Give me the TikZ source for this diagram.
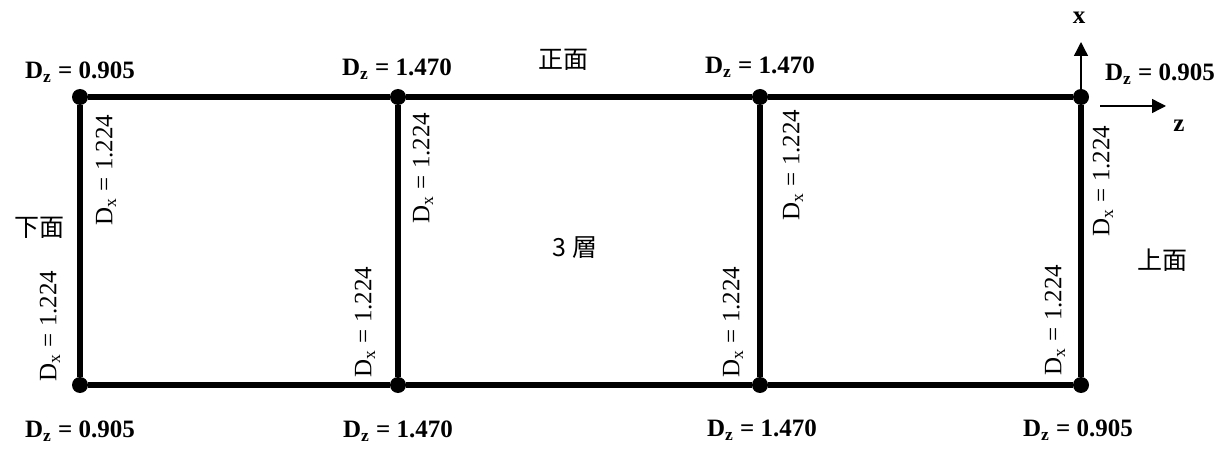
\documentclass[tikz,border=0pt]{standalone}
\usepackage{fontspec}
\setmainfont{Liberation Serif}
\newfontfamily\cjk{Noto Sans CJK JP}
\usetikzlibrary{arrows.meta}

\begin{document}
\begin{tikzpicture}[x=0.5pt,y=-0.5pt,
  dot/.style={circle, fill=black, inner sep=0pt, minimum size=8pt},
  frame/.style={line width=3pt},
  dzlab/.style={font=\fontsize{12.5}{14}\selectfont\bfseries},
  dxlab/.style={rotate=90, font=\fontsize{12.5}{14}\selectfont},
  face/.style={font=\fontsize{12.5}{14}\selectfont\cjk},
  axis/.style={line width=0.7pt, -{Triangle[length=7pt,width=7pt]}}]
\useasboundingbox (0,0) rectangle (1228,449);
% corner points
\node [dot] (t1) at (80,97) {};
\node [dot] (t2) at (398,97) {};
\node [dot] (t3) at (760,97) {};
\node [dot] (t4) at (1081,97) {};
\node [dot] (b1) at (80,385) {};
\node [dot] (b2) at (398,385) {};
\node [dot] (b3) at (760,385) {};
\node [dot] (b4) at (1081,385) {};
% frame
\draw [frame] (t1) -- (t2) -- (t3) -- (t4);
\draw [frame] (b1) -- (b2) -- (b3) -- (b4);
\draw [frame] (t1) -- (b1);
\draw [frame] (t2) -- (b2);
\draw [frame] (t3) -- (b3);
\draw [frame] (t4) -- (b4);
% D_z labels
\node [dzlab] (dzt1) at (80,72) {D\textsubscript{z} = 0.905};
\node [dzlab] (dzt2) at (397,69) {D\textsubscript{z} = 1.470};
\node [dzlab] (dzt3) at (760,67) {D\textsubscript{z} = 1.470};
\node [dzlab] (dzt4) at (1160,74) {D\textsubscript{z} = 0.905};
\node [dzlab] (dzb1) at (80,431) {D\textsubscript{z} = 0.905};
\node [dzlab] (dzb2) at (398,431) {D\textsubscript{z} = 1.470};
\node [dzlab] (dzb3) at (762,430) {D\textsubscript{z} = 1.470};
\node [dzlab] (dzb4) at (1078,430) {D\textsubscript{z} = 0.905};
% D_x labels
\node [dxlab] (dxu1) at (106,170) {D\textsubscript{x} = 1.224};
\node [dxlab] (dxu2) at (423,168) {D\textsubscript{x} = 1.224};
\node [dxlab] (dxu3) at (793,165) {D\textsubscript{x} = 1.224};
\node [dxlab] (dxu4) at (1103,181) {D\textsubscript{x} = 1.224};
\node [dxlab] (dxl1) at (50,326) {D\textsubscript{x} = 1.224};
\node [dxlab] (dxl2) at (365,322) {D\textsubscript{x} = 1.224};
\node [dxlab] (dxl3) at (733,322) {D\textsubscript{x} = 1.224};
\node [dxlab] (dxl4) at (1055,320) {D\textsubscript{x} = 1.224};
% faces
\node [face] (front) at (563,60) {正面};
\node [face] (lower) at (40,228) {下面};
\node [face] (upper) at (1162,260) {上面};
\node [face] (layer) at (575,248) {3 層};
% axes
\coordinate (xtip) at (1081,42);
\coordinate (zs) at (1100,106);
\coordinate (ze) at (1166,106);
\draw [axis] (t4) -- (xtip);
\draw [axis] (zs) -- (ze);
\node [dzlab] (xl) at (1079,18) {x};
\node [dzlab] (zl) at (1179,126) {z};
\end{tikzpicture}
\end{document}
